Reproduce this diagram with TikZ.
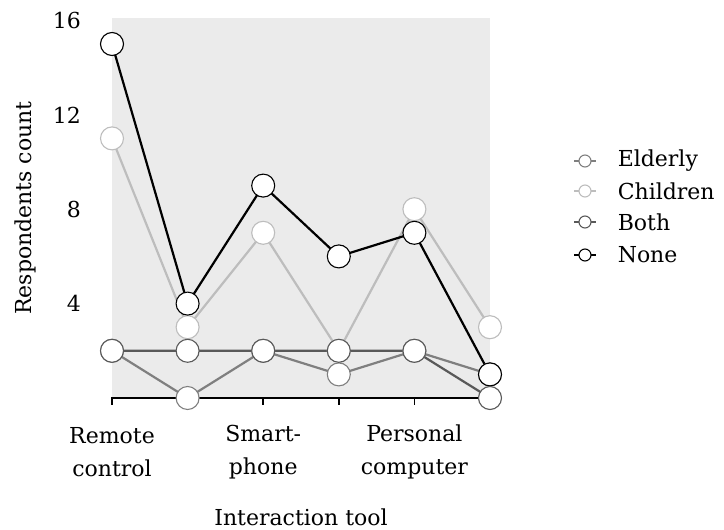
\documentclass[tikz,border=0pt]{standalone}
\usepackage{fontspec}
\setmainfont{DejaVu Serif}
\usetikzlibrary{positioning}
\definecolor{clrpanel}{HTML}{EBEBEB}
\definecolor{clrelderly}{HTML}{7F7F7F}
\definecolor{clrchildren}{HTML}{BDBDBD}
\definecolor{clrboth}{HTML}{595959}
\definecolor{clrnone}{HTML}{000000}

\begin{document}
\begin{tikzpicture}[
    x=1pt, y=-1pt,
    every node/.style={font=\fontsize{22}{26}\selectfont},
    pt/.style={circle, fill=white, inner sep=0, minimum size=23pt, line width=1.1pt},
    legpt/.style={circle, fill=white, inner sep=0, minimum size=12pt, line width=1.1pt},
    series/.style={line width=2.2pt},
    ticklabel/.style={anchor=east, inner sep=0},
    catlabel/.style={align=center, inner sep=0, font=\fontsize{22}{33}\selectfont},
    legtext/.style={anchor=west, inner sep=0},
]
\useasboundingbox (0,0) rectangle (724,530);
\fill[clrpanel] (112,18) rectangle (490,397);

% y scale: 23.6 per count, zero at 398; x step 75.6
\node[ticklabel] (y_16) at (81,20.4) {16};
\node[ticklabel] (y_12) at (81,115) {12};
\node[ticklabel] (y_8) at (81,209.2) {8};
\node[ticklabel] (y_4) at (81,303.6) {4};
\node[rotate=90] (y_title) at (25,208) {Respondents count};

% x axis
\coordinate (ax_0) at (112,398);
\coordinate (ax_1) at (490,398);
\draw[line width=1.6pt] (ax_0) -- (ax_1);
\draw[line width=1.6pt] (112,397) -- ++(0,8);
\draw[line width=1.6pt] (187.6,397) -- ++(0,8);
\draw[line width=1.6pt] (263.2,397) -- ++(0,8);
\draw[line width=1.6pt] (338.8,397) -- ++(0,8);
\draw[line width=1.6pt] (414.4,397) -- ++(0,8);
\draw[line width=1.6pt] (490,397) -- ++(0,8);
\node[catlabel] (x_1) at (112,452) {Remote\\control};
\node[catlabel] (x_2) at (263.2,452) {Smart-\\phone};
\node[catlabel] (x_3) at (414.4,452) {Personal\\computer};
\node (x_title) at (301,517) {Interaction tool};

% data points
\coordinate (pe_1) at (112,350.8);
\coordinate (pe_2) at (187.6,398);
\coordinate (pe_3) at (263.2,350.8);
\coordinate (pe_4) at (338.8,374.4);
\coordinate (pe_5) at (414.4,350.8);
\coordinate (pe_6) at (490,374.4);
\coordinate (pc_1) at (112,138.4);
\coordinate (pc_2) at (187.6,327.2);
\coordinate (pc_3) at (263.2,232.8);
\coordinate (pc_4) at (338.8,350.8);
\coordinate (pc_5) at (414.4,209.2);
\coordinate (pc_6) at (490,327.2);
\coordinate (pb_1) at (112,350.8);
\coordinate (pb_2) at (187.6,350.8);
\coordinate (pb_3) at (263.2,350.8);
\coordinate (pb_4) at (338.8,350.8);
\coordinate (pb_5) at (414.4,350.8);
\coordinate (pb_6) at (490,398);
\coordinate (po_1) at (112,44);
\coordinate (po_2) at (187.6,303.6);
\coordinate (po_3) at (263.2,185.6);
\coordinate (po_4) at (338.8,256.4);
\coordinate (po_5) at (414.4,232.8);
\coordinate (po_6) at (490,374.4);

\draw[series, clrelderly] (pe_1) -- (pe_2) -- (pe_3) -- (pe_4) -- (pe_5) -- (pe_6);
\draw[series, clrchildren] (pc_1) -- (pc_2) -- (pc_3) -- (pc_4) -- (pc_5) -- (pc_6);
\draw[series, clrboth] (pb_1) -- (pb_2) -- (pb_3) -- (pb_4) -- (pb_5) -- (pb_6);
\draw[series, clrnone] (po_1) -- (po_2) -- (po_3) -- (po_4) -- (po_5) -- (po_6);

% Elderly
\node[pt, draw=clrelderly] (e_1) at (pe_1) {};
\node[pt, draw=clrelderly] (e_2) at (pe_2) {};
\node[pt, draw=clrelderly] (e_3) at (pe_3) {};
\node[pt, draw=clrelderly] (e_4) at (pe_4) {};
\node[pt, draw=clrelderly] (e_5) at (pe_5) {};
\node[pt, draw=clrelderly] (e_6) at (pe_6) {};
% Children
\node[pt, draw=clrchildren] (c_1) at (pc_1) {};
\node[pt, draw=clrchildren] (c_2) at (pc_2) {};
\node[pt, draw=clrchildren] (c_3) at (pc_3) {};
\node[pt, draw=clrchildren] (c_4) at (pc_4) {};
\node[pt, draw=clrchildren] (c_5) at (pc_5) {};
\node[pt, draw=clrchildren] (c_6) at (pc_6) {};
% None
\node[pt, draw=clrnone] (o_1) at (po_1) {};
\node[pt, draw=clrnone] (o_2) at (po_2) {};
\node[pt, draw=clrnone] (o_3) at (po_3) {};
\node[pt, draw=clrnone] (o_4) at (po_4) {};
\node[pt, draw=clrnone] (o_5) at (po_5) {};
\node[pt, draw=clrnone] (o_6) at (po_6) {};
% Both
\node[pt, draw=clrboth] (b_1) at (pb_1) {};
\node[pt, draw=clrboth] (b_2) at (pb_2) {};
\node[pt, draw=clrboth] (b_3) at (pb_3) {};
\node[pt, draw=clrboth] (b_4) at (pb_4) {};
\node[pt, draw=clrboth] (b_5) at (pb_5) {};
\node[pt, draw=clrboth] (b_6) at (pb_6) {};

% legend
\coordinate (lk_1) at (585,161);
\coordinate (lk_2) at (585,191);
\coordinate (lk_3) at (585,222);
\coordinate (lk_4) at (585,255);
\draw[line width=1.6pt, clrelderly] ([xshift=-11pt]lk_1) -- ([xshift=11pt]lk_1);
\draw[line width=1.6pt, clrchildren] ([xshift=-11pt]lk_2) -- ([xshift=11pt]lk_2);
\draw[line width=1.6pt, clrboth] ([xshift=-11pt]lk_3) -- ([xshift=11pt]lk_3);
\draw[line width=1.6pt, clrnone] ([xshift=-11pt]lk_4) -- ([xshift=11pt]lk_4);
\node[legpt, draw=clrelderly] (lg_1) at (lk_1) {};
\node[legpt, draw=clrchildren] (lg_2) at (lk_2) {};
\node[legpt, draw=clrboth] (lg_3) at (lk_3) {};
\node[legpt, draw=clrnone] (lg_4) at (lk_4) {};
\node[legtext, right=26pt of lg_1] (lt_1) {Elderly};
\node[legtext, right=26pt of lg_2] (lt_2) {Children};
\node[legtext, right=26pt of lg_3] (lt_3) {Both};
\node[legtext, right=26pt of lg_4] (lt_4) {None};
\end{tikzpicture}
\end{document}
